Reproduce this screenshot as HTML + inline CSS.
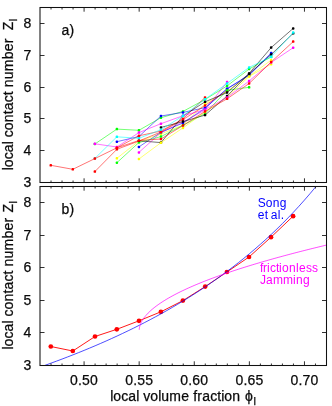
<!DOCTYPE html>
<html><head><meta charset="utf-8"><title>plot</title>
<style>html,body{margin:0;padding:0;background:#fff;}svg{display:block;will-change:transform;}text{font-family:"Liberation Sans",sans-serif;stroke-width:0.25px;}</style>
</head><body>
<svg width="332" height="406" viewBox="0 0 332 406" fill="#111">
<rect width="332" height="406" fill="#fff"/>
<g fill="none" stroke-width="0.55" stroke-linejoin="round">
<polyline points="138.92,152.4 160.96,132.6 183.0,122 205.04,110 227.08,82.0" stroke="#ff00ff"/>
<g fill="#ff00ff" stroke="none"><rect x="137.67" y="151.15" width="2.5" height="2.5" rx="0.9"/><rect x="159.71" y="131.35" width="2.5" height="2.5" rx="0.9"/><rect x="181.75" y="120.75" width="2.5" height="2.5" rx="0.9"/><rect x="203.79" y="108.75" width="2.5" height="2.5" rx="0.9"/><rect x="225.83" y="80.75" width="2.5" height="2.5" rx="0.9"/></g>
<polyline points="94.85,144 116.88,129.1 138.92,130.3 160.96,117.7 183.0,111.4 205.04,99.5 227.08,85.9 249.12,69 271.15,57" stroke="#00ff00"/>
<g fill="#00ff00" stroke="none"><rect x="93.60" y="142.75" width="2.5" height="2.5" rx="0.9"/><rect x="115.63" y="127.85" width="2.5" height="2.5" rx="0.9"/><rect x="137.67" y="129.05" width="2.5" height="2.5" rx="0.9"/><rect x="159.71" y="116.45" width="2.5" height="2.5" rx="0.9"/><rect x="181.75" y="110.15" width="2.5" height="2.5" rx="0.9"/><rect x="203.79" y="98.25" width="2.5" height="2.5" rx="0.9"/><rect x="225.83" y="84.65" width="2.5" height="2.5" rx="0.9"/><rect x="247.87" y="67.75" width="2.5" height="2.5" rx="0.9"/><rect x="269.90" y="55.75" width="2.5" height="2.5" rx="0.9"/></g>
<polyline points="116.88,158.3 138.92,141 160.96,134 183.0,125 205.04,103.7 227.08,91 249.12,76.2 271.15,60.2" stroke="#ffff00"/>
<g fill="#ffff00" stroke="none"><rect x="115.63" y="157.05" width="2.5" height="2.5" rx="0.9"/><rect x="137.67" y="139.75" width="2.5" height="2.5" rx="0.9"/><rect x="159.71" y="132.75" width="2.5" height="2.5" rx="0.9"/><rect x="181.75" y="123.75" width="2.5" height="2.5" rx="0.9"/><rect x="203.79" y="102.45" width="2.5" height="2.5" rx="0.9"/><rect x="225.83" y="89.75" width="2.5" height="2.5" rx="0.9"/><rect x="247.87" y="74.95" width="2.5" height="2.5" rx="0.9"/><rect x="269.90" y="58.95" width="2.5" height="2.5" rx="0.9"/></g>
<polyline points="116.88,141.7 138.92,136.5 160.96,116 183.0,112.4 205.04,107.7 227.08,88.7 249.12,74.8 271.15,53.1" stroke="#0000ff"/>
<g fill="#0000ff" stroke="none"><rect x="115.63" y="140.45" width="2.5" height="2.5" rx="0.9"/><rect x="137.67" y="135.25" width="2.5" height="2.5" rx="0.9"/><rect x="159.71" y="114.75" width="2.5" height="2.5" rx="0.9"/><rect x="181.75" y="111.15" width="2.5" height="2.5" rx="0.9"/><rect x="203.79" y="106.45" width="2.5" height="2.5" rx="0.9"/><rect x="225.83" y="87.45" width="2.5" height="2.5" rx="0.9"/><rect x="247.87" y="73.55" width="2.5" height="2.5" rx="0.9"/><rect x="269.90" y="51.85" width="2.5" height="2.5" rx="0.9"/></g>
<polyline points="138.92,146.9 160.96,132.3 183.0,123 205.04,108.3 227.08,88.9 249.12,75.3 271.15,53.6" stroke="#0000ff"/>
<g fill="#0000ff" stroke="none"><rect x="137.67" y="145.65" width="2.5" height="2.5" rx="0.9"/><rect x="159.71" y="131.05" width="2.5" height="2.5" rx="0.9"/><rect x="181.75" y="121.75" width="2.5" height="2.5" rx="0.9"/><rect x="203.79" y="107.05" width="2.5" height="2.5" rx="0.9"/><rect x="225.83" y="87.65" width="2.5" height="2.5" rx="0.9"/><rect x="247.87" y="74.05" width="2.5" height="2.5" rx="0.9"/><rect x="269.90" y="52.35" width="2.5" height="2.5" rx="0.9"/></g>
<polyline points="94.85,171.6 116.88,149.3 138.92,141 160.96,132 183.0,119.6 205.04,105.5 227.08,90.7" stroke="#ff0000"/>
<g fill="#ff0000" stroke="none"><rect x="93.60" y="170.35" width="2.5" height="2.5" rx="0.9"/><rect x="115.63" y="148.05" width="2.5" height="2.5" rx="0.9"/><rect x="137.67" y="139.75" width="2.5" height="2.5" rx="0.9"/><rect x="159.71" y="130.75" width="2.5" height="2.5" rx="0.9"/><rect x="181.75" y="118.35" width="2.5" height="2.5" rx="0.9"/><rect x="203.79" y="104.25" width="2.5" height="2.5" rx="0.9"/><rect x="225.83" y="89.45" width="2.5" height="2.5" rx="0.9"/></g>
<polyline points="116.88,162.7 138.92,142.5 160.96,136.6 183.0,125.3 205.04,113.5 227.08,90.3 249.12,87.3" stroke="#00ff00"/>
<g fill="#00ff00" stroke="none"><rect x="115.63" y="161.45" width="2.5" height="2.5" rx="0.9"/><rect x="137.67" y="141.25" width="2.5" height="2.5" rx="0.9"/><rect x="159.71" y="135.35" width="2.5" height="2.5" rx="0.9"/><rect x="181.75" y="124.05" width="2.5" height="2.5" rx="0.9"/><rect x="203.79" y="112.25" width="2.5" height="2.5" rx="0.9"/><rect x="225.83" y="89.05" width="2.5" height="2.5" rx="0.9"/><rect x="247.87" y="86.05" width="2.5" height="2.5" rx="0.9"/></g>
<polyline points="116.88,147.8 138.92,135.8 160.96,131 183.0,119 205.04,97.4" stroke="#ff0000"/>
<g fill="#ff0000" stroke="none"><rect x="115.63" y="146.55" width="2.5" height="2.5" rx="0.9"/><rect x="137.67" y="134.55" width="2.5" height="2.5" rx="0.9"/><rect x="159.71" y="129.75" width="2.5" height="2.5" rx="0.9"/><rect x="181.75" y="117.75" width="2.5" height="2.5" rx="0.9"/><rect x="203.79" y="96.15" width="2.5" height="2.5" rx="0.9"/></g>
<polyline points="138.92,140.8 160.96,142.6 183.0,116 205.04,101.8 227.08,92.6 249.12,73.4 271.15,47.6 293.19,28.4" stroke="#000000"/>
<g fill="#000000" stroke="none"><rect x="137.67" y="139.55" width="2.5" height="2.5" rx="0.9"/><rect x="159.71" y="141.35" width="2.5" height="2.5" rx="0.9"/><rect x="181.75" y="114.75" width="2.5" height="2.5" rx="0.9"/><rect x="203.79" y="100.55" width="2.5" height="2.5" rx="0.9"/><rect x="225.83" y="91.35" width="2.5" height="2.5" rx="0.9"/><rect x="247.87" y="72.15" width="2.5" height="2.5" rx="0.9"/><rect x="269.90" y="46.35" width="2.5" height="2.5" rx="0.9"/><rect x="291.94" y="27.15" width="2.5" height="2.5" rx="0.9"/></g>
<polyline points="138.92,159 160.96,142.7 183.0,127.9 205.04,112 227.08,97 249.12,76.4 271.15,64.2" stroke="#ffff00"/>
<g fill="#ffff00" stroke="none"><rect x="137.67" y="157.75" width="2.5" height="2.5" rx="0.9"/><rect x="159.71" y="141.45" width="2.5" height="2.5" rx="0.9"/><rect x="181.75" y="126.65" width="2.5" height="2.5" rx="0.9"/><rect x="203.79" y="110.75" width="2.5" height="2.5" rx="0.9"/><rect x="225.83" y="95.75" width="2.5" height="2.5" rx="0.9"/><rect x="247.87" y="75.15" width="2.5" height="2.5" rx="0.9"/><rect x="269.90" y="62.95" width="2.5" height="2.5" rx="0.9"/></g>
<polyline points="160.96,127.4 183.0,121.6 205.04,115.1 227.08,96 249.12,73.7 271.15,54.6 293.19,33.3" stroke="#000000"/>
<g fill="#000000" stroke="none"><rect x="159.71" y="126.15" width="2.5" height="2.5" rx="0.9"/><rect x="181.75" y="120.35" width="2.5" height="2.5" rx="0.9"/><rect x="203.79" y="113.85" width="2.5" height="2.5" rx="0.9"/><rect x="225.83" y="94.75" width="2.5" height="2.5" rx="0.9"/><rect x="247.87" y="72.45" width="2.5" height="2.5" rx="0.9"/><rect x="269.90" y="53.35" width="2.5" height="2.5" rx="0.9"/><rect x="291.94" y="32.05" width="2.5" height="2.5" rx="0.9"/></g>
<polyline points="94.85,143.8 116.88,147 138.92,132.6 160.96,123.7 183.0,115.7 205.04,109.6 227.08,97.5 249.12,81 271.15,62.5 293.19,47.7" stroke="#ff00ff"/>
<g fill="#ff00ff" stroke="none"><rect x="93.60" y="142.55" width="2.5" height="2.5" rx="0.9"/><rect x="115.63" y="145.75" width="2.5" height="2.5" rx="0.9"/><rect x="137.67" y="131.35" width="2.5" height="2.5" rx="0.9"/><rect x="159.71" y="122.45" width="2.5" height="2.5" rx="0.9"/><rect x="181.75" y="114.45" width="2.5" height="2.5" rx="0.9"/><rect x="203.79" y="108.35" width="2.5" height="2.5" rx="0.9"/><rect x="225.83" y="96.25" width="2.5" height="2.5" rx="0.9"/><rect x="247.87" y="79.75" width="2.5" height="2.5" rx="0.9"/><rect x="269.90" y="61.25" width="2.5" height="2.5" rx="0.9"/><rect x="291.94" y="46.45" width="2.5" height="2.5" rx="0.9"/></g>
<polyline points="94.85,158.4 116.88,136.8 138.92,138.3 160.96,129.7 183.0,115.8 205.04,99.2 227.08,83.5 249.12,67.4 271.15,56.8 293.19,32.5" stroke="#00ffff"/>
<g fill="#00ffff" stroke="none"><rect x="93.60" y="157.15" width="2.5" height="2.5" rx="0.9"/><rect x="115.63" y="135.55" width="2.5" height="2.5" rx="0.9"/><rect x="137.67" y="137.05" width="2.5" height="2.5" rx="0.9"/><rect x="159.71" y="128.45" width="2.5" height="2.5" rx="0.9"/><rect x="181.75" y="114.55" width="2.5" height="2.5" rx="0.9"/><rect x="203.79" y="97.95" width="2.5" height="2.5" rx="0.9"/><rect x="225.83" y="82.25" width="2.5" height="2.5" rx="0.9"/><rect x="247.87" y="66.15" width="2.5" height="2.5" rx="0.9"/><rect x="269.90" y="55.55" width="2.5" height="2.5" rx="0.9"/><rect x="291.94" y="31.25" width="2.5" height="2.5" rx="0.9"/></g>
<polyline points="50.77,165.3 72.81,169.3 94.85,158.6 116.88,147.8 138.92,140.5 160.96,139 183.0,125.5 205.04,111.4 227.08,98.8 249.12,83.5 271.15,62 293.19,41.6" stroke="#ff0000"/>
<g fill="#ff0000" stroke="none"><rect x="49.52" y="164.05" width="2.5" height="2.5" rx="0.9"/><rect x="71.56" y="168.05" width="2.5" height="2.5" rx="0.9"/><rect x="93.60" y="157.35" width="2.5" height="2.5" rx="0.9"/><rect x="115.63" y="146.55" width="2.5" height="2.5" rx="0.9"/><rect x="137.67" y="139.25" width="2.5" height="2.5" rx="0.9"/><rect x="159.71" y="137.75" width="2.5" height="2.5" rx="0.9"/><rect x="181.75" y="124.25" width="2.5" height="2.5" rx="0.9"/><rect x="203.79" y="110.15" width="2.5" height="2.5" rx="0.9"/><rect x="225.83" y="97.55" width="2.5" height="2.5" rx="0.9"/><rect x="247.87" y="82.25" width="2.5" height="2.5" rx="0.9"/><rect x="269.90" y="60.75" width="2.5" height="2.5" rx="0.9"/><rect x="291.94" y="40.35" width="2.5" height="2.5" rx="0.9"/></g>
</g>
<clipPath id="cb"><rect x="40.0" y="186.5" width="286.5" height="179.0"/></clipPath>
<polyline points="50.8,346.5 72.8,351 95,336.5 116.8,329.3 139,320.8 160.9,311.8 182.9,300.6 205.2,286.6 226.9,272.0 249.0,257.0 271.0,237.2 293.1,216.2" fill="none" stroke="#ff0000" stroke-width="0.9"/>
<g fill="#ff0000"><circle cx="50.8" cy="346.5" r="2.35"/><circle cx="72.8" cy="351" r="2.35"/><circle cx="95" cy="336.5" r="2.35"/><circle cx="116.8" cy="329.3" r="2.35"/><circle cx="139" cy="320.8" r="2.35"/><circle cx="160.9" cy="311.8" r="2.35"/><circle cx="182.9" cy="300.6" r="2.35"/><circle cx="205.2" cy="286.6" r="2.35"/><circle cx="226.9" cy="272.0" r="2.35"/><circle cx="249.0" cy="257.0" r="2.35"/><circle cx="271.0" cy="237.2" r="2.35"/><circle cx="293.1" cy="216.2" r="2.35"/></g>
<polyline clip-path="url(#cb)" points="40.00,367.10 45.51,365.15 51.02,363.16 56.53,361.13 62.04,359.07 67.55,356.96 73.06,354.82 78.57,352.63 84.08,350.40 89.59,348.12 95.10,345.79 100.61,343.42 106.12,341.00 111.62,338.53 117.13,336.00 122.64,333.42 128.15,330.79 133.66,328.10 139.17,325.34 144.68,322.53 150.19,319.65 155.70,316.70 161.21,313.69 166.72,310.60 172.23,307.45 177.74,304.21 183.25,300.90 188.76,297.50 194.27,294.03 199.78,290.46 205.29,286.80 210.80,283.04 216.31,279.19 221.82,275.24 227.33,271.17 232.84,267.00 238.35,262.71 243.86,258.30 249.37,253.76 254.88,249.09 260.38,244.29 265.89,239.34 271.40,234.24 276.91,228.98 282.42,223.56 287.93,217.97 293.44,212.20 298.95,206.24 304.46,200.07 309.97,193.71 315.48,187.12 320.99,180.30 326.50,173.23" fill="none" stroke="#0000ff" stroke-width="0.7"/>
<polyline clip-path="url(#cb)" points="139.22,329.74 139.37,328.26 139.52,327.41 139.67,326.73 139.82,326.15 139.97,325.63 140.12,325.16 140.27,324.73 140.42,324.32 140.57,323.94 140.72,323.57 140.87,323.22 141.02,322.89 141.17,322.57 141.32,322.26 141.47,321.96 141.62,321.68 141.77,321.40 141.92,321.12 142.07,320.86 142.22,320.60 142.37,320.35 142.52,320.10 142.67,319.86 142.82,319.62 142.97,319.39 143.12,319.16 143.27,318.93 143.42,318.71 143.57,318.50 143.72,318.28 143.87,318.07 144.02,317.87 144.17,317.66 144.32,317.46 144.47,317.27 144.62,317.07 144.77,316.88 144.92,316.69 145.07,316.50 145.22,316.32 145.37,316.13 145.52,315.95 145.67,315.77 145.82,315.60 145.97,315.42 146.12,315.25 148.12,313.09 150.12,311.15 152.12,309.37 154.12,307.73 156.12,306.18 158.12,304.72 160.12,303.33 162.12,302.00 164.12,300.73 166.12,299.50 168.12,298.32 170.12,297.18 172.12,296.07 174.12,294.99 176.12,293.94 178.12,292.92 180.12,291.92 182.12,290.95 184.12,290.00 186.12,289.07 188.12,288.15 190.12,287.26 192.12,286.38 194.12,285.51 196.12,284.66 198.12,283.83 200.12,283.01 202.12,282.20 204.12,281.40 206.12,280.62 208.12,279.84 210.12,279.08 212.12,278.33 214.12,277.58 216.12,276.85 218.12,276.13 220.12,275.41 222.12,274.70 224.12,274.00 226.12,273.31 228.12,272.63 230.12,271.95 232.12,271.28 234.12,270.62 236.12,269.96 238.12,269.31 240.12,268.67 242.12,268.03 244.12,267.40 246.12,266.77 248.12,266.15 250.12,265.54 252.12,264.93 254.12,264.32 256.12,263.72 258.12,263.13 260.12,262.54 262.12,261.95 264.12,261.37 266.12,260.80 268.12,260.22 270.12,259.66 272.12,259.09 274.12,258.53 276.12,257.98 278.12,257.42 280.12,256.88 282.12,256.33 284.12,255.79 286.12,255.25 288.12,254.72 290.12,254.19 292.12,253.66 294.12,253.14 296.12,252.62 298.12,252.10 300.12,251.59 302.12,251.07 304.12,250.57 306.12,250.06 308.12,249.56 310.12,249.06 312.12,248.56 314.12,248.07 316.12,247.58 318.12,247.09 320.12,246.60 322.12,246.12 324.12,245.64 326.12,245.16" fill="none" stroke="#ff00ff" stroke-width="0.7"/>
<g stroke="#1a1a1a" stroke-width="0.9" fill="none">
<path d="M51.02 182.5v-2.0M51.02 7.5v2.0"/>
<path d="M62.04 182.5v-2.0M62.04 7.5v2.0"/>
<path d="M73.06 182.5v-2.0M73.06 7.5v2.0"/>
<path d="M84.08 182.5v-4.2M84.08 7.5v4.2"/>
<path d="M95.10 182.5v-2.0M95.10 7.5v2.0"/>
<path d="M106.12 182.5v-2.0M106.12 7.5v2.0"/>
<path d="M117.13 182.5v-2.0M117.13 7.5v2.0"/>
<path d="M128.15 182.5v-2.0M128.15 7.5v2.0"/>
<path d="M139.17 182.5v-4.2M139.17 7.5v4.2"/>
<path d="M150.19 182.5v-2.0M150.19 7.5v2.0"/>
<path d="M161.21 182.5v-2.0M161.21 7.5v2.0"/>
<path d="M172.23 182.5v-2.0M172.23 7.5v2.0"/>
<path d="M183.25 182.5v-2.0M183.25 7.5v2.0"/>
<path d="M194.27 182.5v-4.2M194.27 7.5v4.2"/>
<path d="M205.29 182.5v-2.0M205.29 7.5v2.0"/>
<path d="M216.31 182.5v-2.0M216.31 7.5v2.0"/>
<path d="M227.33 182.5v-2.0M227.33 7.5v2.0"/>
<path d="M238.35 182.5v-2.0M238.35 7.5v2.0"/>
<path d="M249.37 182.5v-4.2M249.37 7.5v4.2"/>
<path d="M260.38 182.5v-2.0M260.38 7.5v2.0"/>
<path d="M271.40 182.5v-2.0M271.40 7.5v2.0"/>
<path d="M282.42 182.5v-2.0M282.42 7.5v2.0"/>
<path d="M293.44 182.5v-2.0M293.44 7.5v2.0"/>
<path d="M304.46 182.5v-4.2M304.46 7.5v4.2"/>
<path d="M315.48 182.5v-2.0M315.48 7.5v2.0"/>
<path d="M40.0 150.50h4.5M326.5 150.50h-4.5"/>
<path d="M40.0 118.50h4.5M326.5 118.50h-4.5"/>
<path d="M40.0 87.50h4.5M326.5 87.50h-4.5"/>
<path d="M40.0 55.50h4.5M326.5 55.50h-4.5"/>
<path d="M40.0 23.50h4.5M326.5 23.50h-4.5"/>
<path d="M51.02 365.5v-2.0M51.02 186.5v2.0"/>
<path d="M62.04 365.5v-2.0M62.04 186.5v2.0"/>
<path d="M73.06 365.5v-2.0M73.06 186.5v2.0"/>
<path d="M84.08 365.5v-4.2M84.08 186.5v4.2"/>
<path d="M95.10 365.5v-2.0M95.10 186.5v2.0"/>
<path d="M106.12 365.5v-2.0M106.12 186.5v2.0"/>
<path d="M117.13 365.5v-2.0M117.13 186.5v2.0"/>
<path d="M128.15 365.5v-2.0M128.15 186.5v2.0"/>
<path d="M139.17 365.5v-4.2M139.17 186.5v4.2"/>
<path d="M150.19 365.5v-2.0M150.19 186.5v2.0"/>
<path d="M161.21 365.5v-2.0M161.21 186.5v2.0"/>
<path d="M172.23 365.5v-2.0M172.23 186.5v2.0"/>
<path d="M183.25 365.5v-2.0M183.25 186.5v2.0"/>
<path d="M194.27 365.5v-4.2M194.27 186.5v4.2"/>
<path d="M205.29 365.5v-2.0M205.29 186.5v2.0"/>
<path d="M216.31 365.5v-2.0M216.31 186.5v2.0"/>
<path d="M227.33 365.5v-2.0M227.33 186.5v2.0"/>
<path d="M238.35 365.5v-2.0M238.35 186.5v2.0"/>
<path d="M249.37 365.5v-4.2M249.37 186.5v4.2"/>
<path d="M260.38 365.5v-2.0M260.38 186.5v2.0"/>
<path d="M271.40 365.5v-2.0M271.40 186.5v2.0"/>
<path d="M282.42 365.5v-2.0M282.42 186.5v2.0"/>
<path d="M293.44 365.5v-2.0M293.44 186.5v2.0"/>
<path d="M304.46 365.5v-4.2M304.46 186.5v4.2"/>
<path d="M315.48 365.5v-2.0M315.48 186.5v2.0"/>
<path d="M40.0 332.50h4.5M326.5 332.50h-4.5"/>
<path d="M40.0 300.50h4.5M326.5 300.50h-4.5"/>
<path d="M40.0 267.50h4.5M326.5 267.50h-4.5"/>
<path d="M40.0 235.50h4.5M326.5 235.50h-4.5"/>
<path d="M40.0 202.50h4.5M326.5 202.50h-4.5"/>
</g>
<g stroke="#111" stroke-width="1.05" fill="none">
<rect x="40.0" y="7.5" width="286.5" height="175.0"/>
<rect x="40.0" y="186.5" width="286.5" height="179.0"/>
</g>
<text y="187.05" font-size="14" fill="#0a0a0a" stroke="#0a0a0a" x="23.4">3</text>
<text y="370.05" font-size="14" fill="#0a0a0a" stroke="#0a0a0a" x="23.4">3</text>
<text y="155.05" font-size="14" fill="#0a0a0a" stroke="#0a0a0a" x="23.4">4</text>
<text y="337.05" font-size="14" fill="#0a0a0a" stroke="#0a0a0a" x="23.4">4</text>
<text y="123.05" font-size="14" fill="#0a0a0a" stroke="#0a0a0a" x="23.4">5</text>
<text y="305.05" font-size="14" fill="#0a0a0a" stroke="#0a0a0a" x="23.4">5</text>
<text y="92.05" font-size="14" fill="#0a0a0a" stroke="#0a0a0a" x="23.4">6</text>
<text y="272.05" font-size="14" fill="#0a0a0a" stroke="#0a0a0a" x="23.4">6</text>
<text y="60.05" font-size="14" fill="#0a0a0a" stroke="#0a0a0a" x="23.4">7</text>
<text y="240.05" font-size="14" fill="#0a0a0a" stroke="#0a0a0a" x="23.4">7</text>
<text y="28.05" font-size="14" fill="#0a0a0a" stroke="#0a0a0a" x="23.4">8</text>
<text y="207.05" font-size="14" fill="#0a0a0a" stroke="#0a0a0a" x="23.4">8</text>
<text y="385.2" font-size="14" fill="#0a0a0a" stroke="#0a0a0a" x="70.1 78.1 82.1 90.1">0.50</text>
<text y="385.2" font-size="14" fill="#0a0a0a" stroke="#0a0a0a" x="125.2 133.2 137.2 145.2">0.55</text>
<text y="385.2" font-size="14" fill="#0a0a0a" stroke="#0a0a0a" x="180.3 188.3 192.3 200.3">0.60</text>
<text y="385.2" font-size="14" fill="#0a0a0a" stroke="#0a0a0a" x="235.4 243.4 247.4 255.4">0.65</text>
<text y="385.2" font-size="14" fill="#0a0a0a" stroke="#0a0a0a" x="290.5 298.5 302.5 310.5">0.70</text>
<text y="400.7" font-size="14" fill="#0a0a0a" stroke="#0a0a0a" x="110.3 113.3 121.3 128.3 136.3 139.3 143.3 150.3 158.3 161.3 169.3 181.3 189.3 193.3 197.3 202.3 210.3 217.3 221.3 224.3 232.3">local volume fraction</text>
<text x="245" y="400.7" font-size="14" stroke="#0a0a0a">&#981;</text>
<text x="253.4" y="405.3" font-size="11" stroke="#0a0a0a">l</text>
<text transform="translate(12.7 170.3) rotate(-90)" font-size="14" fill="#0a0a0a" stroke="#0a0a0a" x="0 3 11 18 26 29 33 40 48 56 60 68 75 79 83 91 99 111 119 127">local contact number</text>
<text transform="translate(12.7 30.2) rotate(-90)" font-size="14" fill="#0a0a0a" stroke="#0a0a0a" x="0">Z</text>
<text transform="translate(16.6 21.3) rotate(-90)" font-size="11" fill="#0a0a0a" stroke="#0a0a0a" x="0">l</text>
<text transform="translate(12.7 349.4) rotate(-90)" font-size="14" fill="#0a0a0a" stroke="#0a0a0a" x="0 3 11 18 26 29 33 40 48 56 60 68 75 79 83 91 99 111 119 127">local contact number</text>
<text transform="translate(12.7 212.4) rotate(-90)" font-size="14" fill="#0a0a0a" stroke="#0a0a0a" x="0">Z</text>
<text transform="translate(16.6 203.5) rotate(-90)" font-size="11" fill="#0a0a0a" stroke="#0a0a0a" x="0">l</text>
<text y="34.6" font-size="14" fill="#0a0a0a" stroke="#0a0a0a" x="61.5 69.5">a)</text>
<text y="214" font-size="14" fill="#0a0a0a" stroke="#0a0a0a" x="61.5 69.5">b)</text>
<text y="206.8" font-size="12" fill="#0000ff" x="257.8 265.8 272.8 279.8">Song</text>
<text y="218.8" font-size="12" fill="#0000ff" x="257.8 264.8 267.8 270.8 277.8 280.8">et al.</text>
<text y="272" font-size="12" fill="#ff00ff" x="260 263 267 270 276 279 282 289 296 299 306 312">frictionless</text>
<text y="283.5" font-size="12" fill="#ff00ff" x="260 266 273 283 293 296 303">Jamming</text>
</svg></body></html>
